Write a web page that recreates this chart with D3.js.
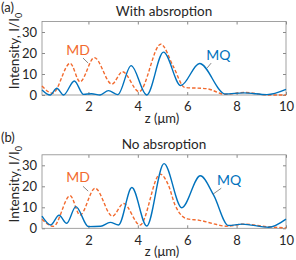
<!DOCTYPE html>
<html>
<head>
<meta charset="utf-8">
<script src="https://cdn.jsdelivr.net/npm/d3@7"></script>
<style>
  body { margin: 0; background: #fff; }
  text { font-family: Lato, "Open Sans", sans-serif; fill: #262626; }
</style>
</head>
<body>
<div id="chart"></div>
<script>
// panel (a): with absorption
const mqAz = [0.12, 0.45, 0.72, 0.99, 1.43, 1.80, 2.13, 2.47, 2.81, 3.19, 3.73, 4.36, 5.04, 5.74, 6.5, 7.54, 8.28, 9.23, 10];
const mqA  = [2.4, 0, 3.2, 0, 6.7, 0.3, 0.6, 0, 2.1, 0.2, 14, 0, 20.4, 4.5, 15, 0.5, 1.0, 0.2, 2.7];
const mdAz = [0.12, 0.55, 1.26, 1.66, 2.24, 2.95, 3.38, 4.05, 4.93, 5.44, 5.9, 6.8, 7.54, 8.3, 9.3, 10];
const mdA  = [4.3, 0.8, 15.1, 6.3, 17.8, 5.2, 11.1, 1.6, 24.2, 13.5, 3.6, 3.0, 0.3, 1.2, 0, 0];

// panel (b): no absorption
const mqBz = [0.12, 0.47, 0.81, 1.12, 1.49, 2.0, 2.5, 2.88, 3.22, 3.76, 4.36, 5.06, 5.78, 6.53, 7.07, 7.67, 8.22, 9.3, 10];
const mqB  = [5.8, 1.6, 6.2, 2.4, 10.3, 0.8, 1.0, 2.8, 1.6, 19.4, 1.1, 30.8, 9.8, 25, 15.8, 1.3, 2.0, 0.5, 4.4];
const mdBz = [0.12, 0.58, 1.26, 1.66, 2.27, 2.97, 3.42, 4.09, 4.9, 5.24, 5.51, 5.78, 6.0, 6.5, 7.16, 7.57, 8.32, 9.2, 10];
const mdB  = [4.3, 0.9, 15.5, 6.3, 19.1, 5.8, 11.8, 1.6, 25.8, 20.5, 11, 6, 4.5, 3.8, 1.9, 1.0, 2.0, 0.8, 0.2];

const xTicks = [2, 4, 6, 8, 10];
const yTicks = [0, 10, 20, 30];

const blue = "#0072BD", orange = "#F26A2E";
const width = 296, height = 260;

const svg = d3.select("#chart")
  .append("svg")
  .attr("width", width)
  .attr("height", height);

const x = d3.scaleLinear()
  .domain([0.12, 10])
  .range([42, 286]);

function panel(opts) {
  const y = d3.scaleLinear()
    .domain([0, 35])
    .range([opts.bottom, opts.bottom - 73.5]);

  const g = svg.append("g");

  // box with inward ticks on all sides
  g.append("g")
    .attr("transform", `translate(0,${opts.bottom})`)
    .call(d3.axisBottom(x).tickValues(xTicks).tickSize(-3).tickPadding(7).tickFormat(d3.format("d")))
    .call(a => a.select(".domain").remove())
    .style("font-size", "13px");
  g.append("g")
    .attr("transform", `translate(0,${y(35)})`)
    .call(d3.axisTop(x).tickValues(xTicks).tickSize(-3).tickFormat(""))
    .call(a => a.select(".domain").remove());
  g.append("g")
    .attr("transform", `translate(${x.range()[0]},0)`)
    .call(d3.axisLeft(y).tickValues(yTicks).tickSize(-3).tickPadding(5))
    .call(a => a.select(".domain").remove())
    .style("font-size", "13px");
  g.append("g")
    .attr("transform", `translate(${x.range()[1]},0)`)
    .call(d3.axisRight(y).tickValues(yTicks).tickSize(-3).tickFormat(""))
    .call(a => a.select(".domain").remove());
  g.selectAll(".tick line").attr("stroke", "#8a8a8a");
  g.selectAll(".tick text").attr("fill", "#262626");

  g.append("rect")
    .attr("x", x.range()[0])
    .attr("y", y(35))
    .attr("width", x.range()[1] - x.range()[0])
    .attr("height", opts.bottom - y(35))
    .attr("fill", "none")
    .attr("stroke", "#8a8a8a")
    .attr("stroke-width", 0.8);

  const line = d3.line()
    .x(d => x(d[0]))
    .y(d => y(d[1]))
    .curve(d3.curveMonotoneX);

  g.append("path")
    .datum(d3.zip(opts.mdz, opts.md))
    .attr("d", line)
    .attr("fill", "none")
    .attr("stroke", orange)
    .attr("stroke-width", 1.4)
    .attr("stroke-dasharray", "3.5,2");

  g.append("path")
    .datum(d3.zip(opts.mqz, opts.mq))
    .attr("d", line)
    .attr("fill", "none")
    .attr("stroke", blue)
    .attr("stroke-width", 1.4);

  // labels with small leader lines
  opts.labels.forEach(l => {
    g.append("line")
      .attr("x1", x(l.lead[0])).attr("y1", y(l.lead[1]))
      .attr("x2", x(l.lead[2])).attr("y2", y(l.lead[3]))
      .attr("stroke", "#555")
      .attr("stroke-width", 0.7);
    g.append("text")
      .attr("x", x(l.at[0]))
      .attr("y", y(l.at[1]))
      .attr("text-anchor", "middle")
      .attr("dy", "0.35em")
      .style("font-size", "14px")
      .style("fill", l.color)
      .text(l.text);
  });

  g.append("text")
    .attr("x", 164)
    .attr("y", opts.titleY)
    .attr("text-anchor", "middle")
    .style("font-size", "13.5px")
    .text(opts.title);

  g.append("text")
    .attr("x", 1)
    .attr("y", opts.tagY)
    .style("font-size", "13px")
    .text(opts.tag);

  g.append("text")
    .attr("x", 162)
    .attr("y", opts.bottom + 28)
    .attr("text-anchor", "middle")
    .style("font-size", "13px")
    .text("z (\u03bcm)");

  const yl = g.append("text")
    .attr("transform", `translate(19,${opts.bottom - 44}) rotate(-90)`)
    .attr("text-anchor", "middle")
    .style("font-size", "13.5px");
  yl.append("tspan").text("Intensity, I/I");
  yl.append("tspan").attr("dy", 3).style("font-size", "9px").text("0");
}

panel({
  bottom: 95, mqz: mqAz, mq: mqA, mdz: mdAz, md: mdA,
  title: "With absroption", titleY: 16, tag: "(a)", tagY: 12,
  labels: [
    {text: "MD", color: orange, at: [1.58, 21.4], lead: [1.78, 17.6, 1.99, 15.2]},
    {text: "MQ", color: blue, at: [7.26, 19], lead: [6.97, 15.2, 6.81, 12.9]}
  ]
});

panel({
  bottom: 228.3, mqz: mqBz, mq: mqB, mdz: mdBz, md: mdB,
  title: "No absroption", titleY: 149, tag: "(b)", tagY: 142,
  labels: [
    {text: "MD", color: orange, at: [1.58, 24.3], lead: [1.78, 20, 1.99, 17.7]},
    {text: "MQ", color: blue, at: [7.7, 22.9], lead: [7.38, 19.1, 7.05, 16.3]}
  ]
});
</script>
</body>
</html>
